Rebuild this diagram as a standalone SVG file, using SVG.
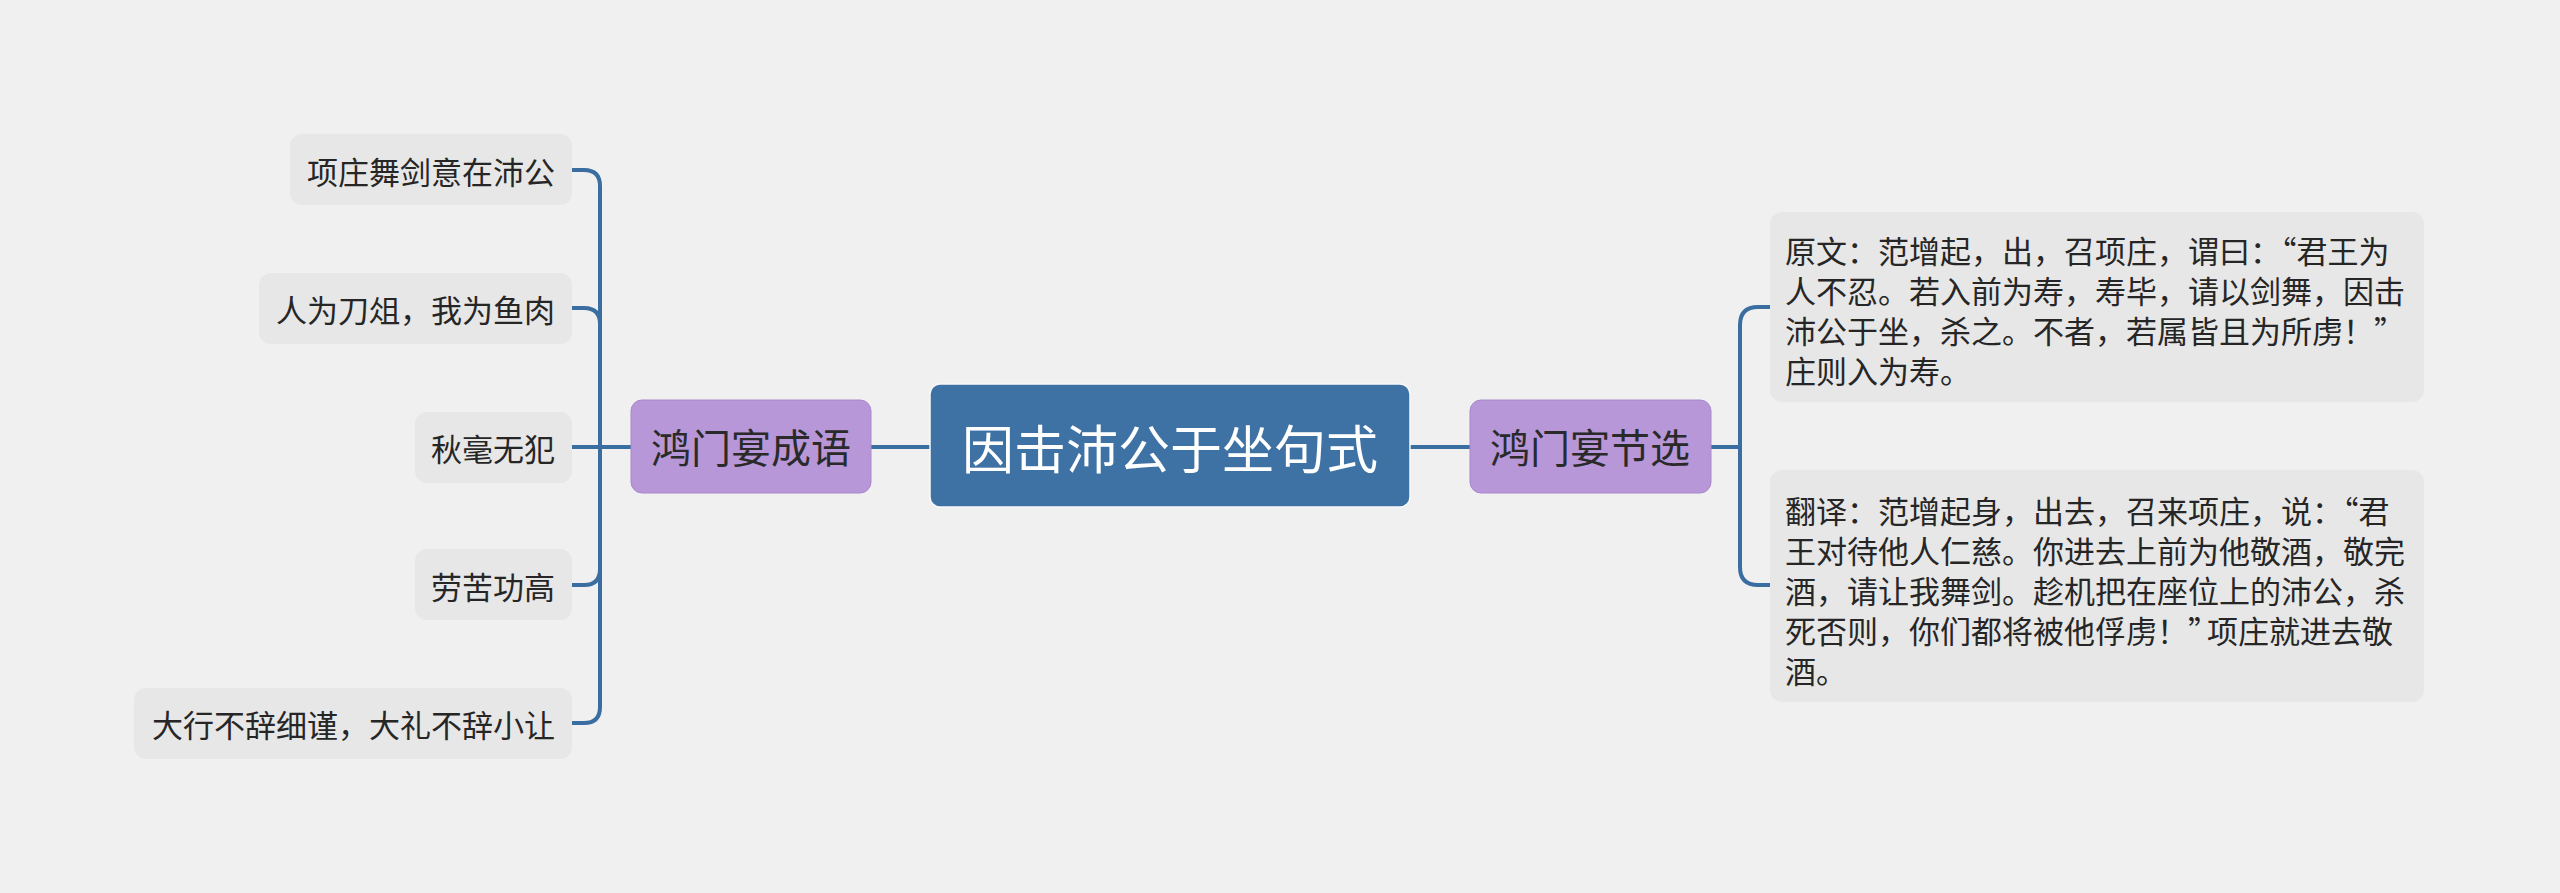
<svg xmlns="http://www.w3.org/2000/svg" width="2560" height="893" viewBox="0 0 2560 893">
<style>
.bg{fill:#f0f0f0}
.leaf{fill:#e7e7e7}
.leaf-t{font-family:"Noto Sans CJK SC","Noto Sans",sans-serif;font-size:31px;fill:#262626}
.mid{fill:#b797d8;stroke:#a888cc;stroke-width:1}
.mid-t{font-family:"Noto Sans CJK SC","Noto Sans",sans-serif;font-size:40px;fill:#2a2a2a;text-anchor:middle;dominant-baseline:central}
.root{fill:#3e72a4;stroke:#f8f8f8;stroke-width:1.5}
.root-t{font-family:"Noto Sans CJK SC","Noto Sans",sans-serif;font-size:52px;fill:#ffffff;text-anchor:middle;dominant-baseline:central}
.conn{fill:none;stroke:#3a6ea0;stroke-width:4;stroke-linecap:butt;stroke-linejoin:round}
</style>
<rect class="bg" x="0" y="0" width="2560" height="893"/>
<g id="connectors">
<path class="conn" d="M631 447 H600 V186 Q600 170 584 170 H572"/>
<path class="conn" d="M600 324 Q600 308 584 308 H572"/>
<path class="conn" d="M631 447 H572"/>
<path class="conn" d="M600 447 V569 Q600 585 584 585 H572"/>
<path class="conn" d="M600 447 V707 Q600 723 584 723 H572"/>
<path class="conn" d="M1410 447 H1470"/>
<path class="conn" d="M871 447 H930"/>
<path class="conn" d="M1711 447 H1740 V325 Q1740 307 1758 307 H1770"/>
<path class="conn" d="M1740 447 V567 Q1740 585 1758 585 H1770"/>
</g>
<g id="root">
<rect class="root" x="930" y="384" width="480" height="123" rx="10"/>
<text class="root-t" x="1170" y="446">因击沛公于坐句式</text>
</g>
<g id="left-branch">
<rect class="mid" x="631" y="400" width="240" height="93" rx="11"/>
<text class="mid-t" x="751" y="446">鸿门宴成语</text>
</g>
<g id="right-branch">
<rect class="mid" x="1470" y="400" width="241" height="93" rx="11"/>
<text class="mid-t" x="1590" y="446">鸿门宴节选</text>
</g>
<g id="leaf1">
<rect class="leaf" x="290" y="134" width="282" height="71" rx="12"/>
<text class="leaf-t" x="555" y="170" text-anchor="end" dominant-baseline="central">项庄舞剑意在沛公</text>
</g>
<g id="leaf2">
<rect class="leaf" x="259" y="273" width="313" height="71" rx="12"/>
<text class="leaf-t" x="555" y="308" text-anchor="end" dominant-baseline="central">人为刀俎，我为鱼肉</text>
</g>
<g id="leaf3">
<rect class="leaf" x="415" y="412" width="157" height="71" rx="12"/>
<text class="leaf-t" x="555" y="447" text-anchor="end" dominant-baseline="central">秋毫无犯</text>
</g>
<g id="leaf4">
<rect class="leaf" x="415" y="549" width="157" height="71" rx="12"/>
<text class="leaf-t" x="555" y="585" text-anchor="end" dominant-baseline="central">劳苦功高</text>
</g>
<g id="leaf5">
<rect class="leaf" x="134" y="688" width="438" height="71" rx="12"/>
<text class="leaf-t" x="555" y="723" text-anchor="end" dominant-baseline="central">大行不辞细谨，大礼不辞小让</text>
</g>
<g id="leaf6">
<rect class="leaf" x="1770" y="212" width="654" height="190" rx="12"/>
<text class="leaf-t" dominant-baseline="central">
<tspan x="1785" y="249">原文：范增起，出，召项庄，谓曰：“君王为</tspan>
<tspan x="1785" y="289">人不忍。若入前为寿，寿毕，请以剑舞，因击</tspan>
<tspan x="1785" y="329">沛公于坐，杀之。不者，若属皆且为所虏！”</tspan>
<tspan x="1785" y="369">庄则入为寿。</tspan>
</text>
</g>
<g id="leaf7">
<rect class="leaf" x="1770" y="470" width="654" height="232" rx="12"/>
<text class="leaf-t" dominant-baseline="central">
<tspan x="1785" y="509">翻译：范增起身，出去，召来项庄，说：“君</tspan>
<tspan x="1785" y="549">王对待他人仁慈。你进去上前为他敬酒，敬完</tspan>
<tspan x="1785" y="589">酒，请让我舞剑。趁机把在座位上的沛公，杀</tspan>
<tspan x="1785" y="629">死否则，你们都将被他俘虏！”</tspan><tspan dx="-12" y="629">项庄就进去敬</tspan>
<tspan x="1785" y="669">酒。</tspan>
</text>
</g>
</svg>
